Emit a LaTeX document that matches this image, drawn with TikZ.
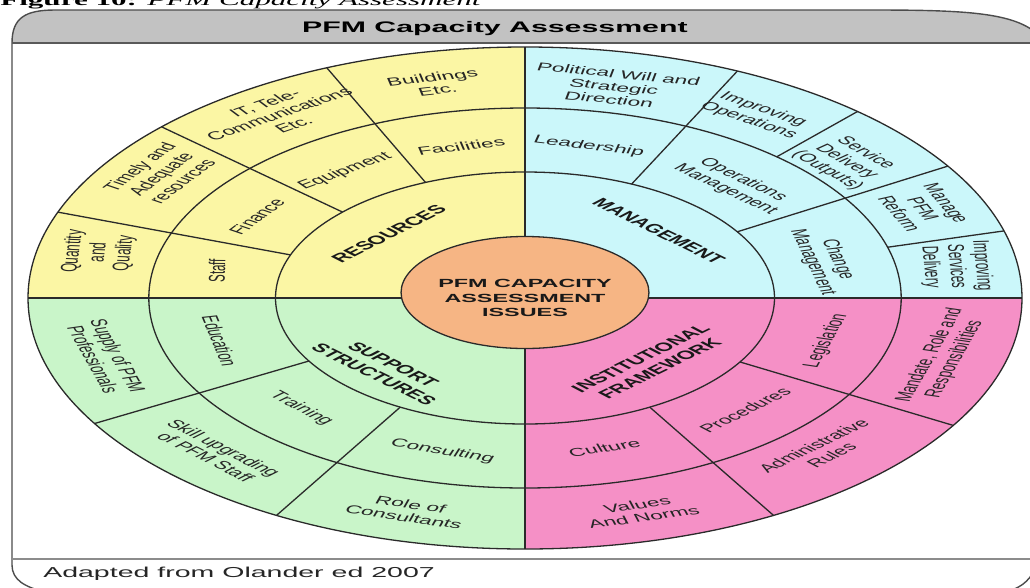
\documentclass[tikz,border=0pt]{standalone}
\usepackage{fontspec}
\setmainfont{Liberation Sans}
\newfontfamily\capserif{Liberation Serif}
\usepackage{tikz}

\definecolor{resyellow}{HTML}{FBF6A4}
\definecolor{mancyan}{HTML}{CBF7FA}
\definecolor{supgreen}{HTML}{C9F5C9}
\definecolor{inspink}{HTML}{F590C6}
\definecolor{coreorange}{HTML}{F6B584}
\definecolor{headgray}{HTML}{C2C2C2}
\definecolor{edge}{HTML}{2A2A2A}

\begin{document}
\begin{tikzpicture}[x=1pt, y=1pt,
    ring/.style={draw=edge, line width=1.3pt},
    lbl/.style={align=center, text=black!85, inner sep=0pt, font=\fontsize{11.5}{13}\selectfont},
    qtitle/.style={align=center, text=black!90, inner sep=0pt, font=\fontsize{12}{14}\selectfont\bfseries}]
    \useasboundingbox (0,0) rectangle (1030,-587);

    % frame
    \fill[headgray] (12,-43) .. controls (12,-18) and (25,-10) .. (55,-10) -- (870,-10)
        .. controls (960,-10) and (1010,-12) .. (1035,-32) -- (1045,-43) -- cycle;
    \draw[black!70, line width=1.4pt] (1045,-43) -- (1035,-32) .. controls (1010,-12) and (960,-10) .. (870,-10)
        -- (55,-10) .. controls (25,-10) and (12,-18) .. (12,-43) -- (12,-565)
        .. controls (12,-580) and (25,-587) .. (45,-592) -- (1000,-592)
        .. controls (1020,-590) and (1028,-582) .. (1036,-568);
    \draw[black!65, line width=1.6pt] (12,-43) -- (1030,-43);
    \draw[black!45, line width=1.4pt] (12,-559) -- (1030,-559);

    \begin{scope}[shift={(525,-298)}, xscale=1.98, transform shape]
    \node[anchor=base west, inner sep=0pt, font=\fontsize{15.7}{17}\capserif] (cap) at (-265.2,293)
        {\textbf{Figure 10:} \textit{PFM Capacity Assessment}};
    \node[anchor=base, inner sep=0pt, font=\fontsize{15.3}{17}\selectfont\bfseries] (head) at (-15.2,266)
        {PFM Capacity Assessment};
    \node[anchor=base west, inner sep=0pt, text=black!85, font=\fontsize{14.4}{16}\selectfont] (foot) at (-243.5,-279)
        {Adapted from Olander ed 2007};

    % quadrants
    \fill[resyellow] (0,0) -- (90:251) arc (90:180:251) -- cycle;
    \fill[mancyan] (0,0) -- (0:251) arc (0:90:251) -- cycle;
    \fill[supgreen] (0,0) -- (180:251) arc (180:270:251) -- cycle;
    \fill[inspink] (0,0) -- (270:251) arc (270:360:251) -- cycle;
    \draw[ring] (0,0) circle (251);
    \draw[ring] (0,0) circle (190);
    \draw[ring] (0,0) circle (126);
    \draw[ring] (-251,0) -- (251,0);
    \draw[ring] (0,-251) -- (0,251);

    \draw[ring] (160:126) -- (160:251);
    \draw[ring] (137:126) -- (137:251);
    \draw[ring] (113.5:126) -- (113.5:251);
    \draw[ring] (64.7:126) -- (64.7:251);
    \draw[ring] (31.7:126) -- (31.7:251);
    \draw[ring] (48:190) -- (48:251);
    \draw[ring] (15.5:190) -- (15.5:251);
    \draw[ring] (210:126) -- (210:251);
    \draw[ring] (240:126) -- (240:251);
    \draw[ring] (300:126) -- (300:251);
    \draw[ring] (329.5:126) -- (329.5:251);

    \filldraw[ring, fill=coreorange] (0,5.5) ellipse [x radius=62.6, y radius=56];
    \node[align=center, inner sep=0pt, text=black!90, font=\fontsize{11.8}{14.5}\selectfont\bfseries] (core) at (0,0)
        {PFM CAPACITY\\ASSESSMENT\\ISSUES};

    % resources
    \node[qtitle, rotate=45]  (res)  at (137:94)   {RESOURCES};
    \node[lbl, rotate=12]     (fac)  at (102:155)  {Facilities};
    \node[lbl, rotate=36]     (eqp)  at (125.6:156) {Equipment};
    \node[lbl, rotate=56]     (fin)  at (149:158)  {Finance};
    \node[lbl, rotate=89]     (stf)  at (170:158)  {Staff};
    \node[lbl, rotate=12]     (bld)  at (102:219)  {Buildings\\Etc.};
    \node[lbl, rotate=34]     (itc)  at (124:222)  {IT, Tele-\\Communications\\Etc.};
    \node[lbl, rotate=56]     (tim)  at (146:222)  {Timely and\\Adequate\\resources};
    \node[lbl, rotate=86]     (qty)  at (168:220)  {Quantity\\and\\Quality};

    % management
    \node[qtitle, rotate=-44] (man)  at (44.7:95)  {MANAGEMENT};
    \node[lbl, rotate=-13]    (lead) at (78:155)   {Leadership};
    \node[lbl, rotate=-43]    (opm)  at (47:155)   {Operations\\Management};
    \node[lbl, rotate=-76]    (chg)  at (13.8:156) {Change\\Management};
    \node[lbl, rotate=-11]    (pol)  at (78:216)   {Political Will and\\Strategic\\Direction};
    \node[lbl, rotate=-34]    (impo) at (57.5:217) {Improving\\Operations};
    \node[lbl, rotate=-48]    (svc)  at (40:212)   {Service\\Delivery\\(Outputs)};
    \node[lbl, rotate=-66]    (mng)  at (24:220)   {Manage\\PFM\\Reform};
    \node[lbl, rotate=-87]    (isd)  at (8.3:220)  {Improving\\Services\\Delivery};

    % support structures
    \node[qtitle, rotate=-44] (sup)  at (225:101)  {SUPPORT\\STRUCTURES};
    \node[lbl, rotate=-78]    (edu)  at (195.5:160) {Education};
    \node[lbl, rotate=-46]    (trn)  at (224.3:158) {Training};
    \node[lbl, rotate=-18]    (cns)  at (254.8:159) {Consulting};
    \node[lbl, rotate=-74]    (spl)  at (195.7:220) {Supply of PFM\\Professionals};
    \node[lbl, rotate=-45]    (skl)  at (224.6:220) {Skill upgrading\\of PFM Staff};
    \node[lbl, rotate=-16]    (rol)  at (254.4:221) {Role of\\Consultants};

    % institutional framework
    \node[qtitle, rotate=44]  (ins)  at (-46:91)   {INSTITUTIONAL\\FRAMEWORK};
    \node[lbl, rotate=74]     (leg)  at (-15.7:158) {Legislation};
    \node[lbl, rotate=44]     (prc)  at (-45.3:158) {Procedures};
    \node[lbl, rotate=17]     (cul)  at (-75:155)  {Culture};
    \node[lbl, rotate=74]     (mdt)  at (-15.7:219) {Mandate, Role and\\Responsibilities};
    \node[lbl, rotate=44]     (adm)  at (-45.4:214) {Administrative\\Rules};
    \node[lbl, rotate=15]     (val)  at (-74.7:221) {Values\\And Norms};
    \end{scope}
\end{tikzpicture}
\end{document}
